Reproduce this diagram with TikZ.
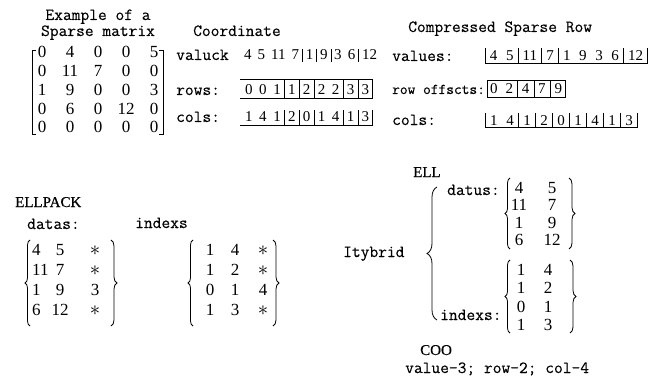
\documentclass[tikz,border=0pt]{standalone}
\usepackage{fontspec}
\setmonofont{Latin Modern Mono}[FakeBold=0.3]
\newfontfamily\timesf{Liberation Serif}
\newfontfamily\titlef{Liberation Serif}[FakeBold=0.6]
\usetikzlibrary{decorations.pathreplacing}
\def\bh{12pt}\def\bd{3pt}
\newcommand\arrbar{\rule[-\bd]{0.6pt}{\dimexpr\bh+\bd\relax}}
\newcommand\B{\hspace{1pt plus 1fil}\arrbar\hspace{1pt plus 1fil}}
\newcommand\Bend{\hspace{1pt plus 1fil}\arrbar}
\newcommand\Bstart{\arrbar\hspace{1pt plus 1fil}}
\newcommand\arr[2]{\hbox to #1{\spaceskip=2pt plus 2fil\relax #2}}
\newcommand\bigast{\smash{\fontsize{20}{20}\selectfont$\ast$}}
\tikzset{
  lbl/.style={font=\ttfamily\fontsize{17}{17}\selectfont, inner sep=0, anchor=base west},
  ttl/.style={font=\titlef\fontsize{15}{15}\selectfont, inner sep=0, anchor=base west},
  num/.style={font=\timesf\fontsize{17}{17}\selectfont, inner sep=0, anchor=base},
  numb/.style={font=\timesf\fontsize{17}{17}\selectfont, inner sep=0, anchor=base},
  arrn/.style={font=\timesf\fontsize{15}{15}\selectfont, inner sep=0, outer sep=0, anchor=base west},
  aline/.style={line width=0.7pt},
  brc/.style={decorate, decoration={brace, amplitude=#1}, line width=0.8pt},
}
\begin{document}
\begin{tikzpicture}[x=1pt, y=-1pt]
\useasboundingbox[fill=white] (0,0) rectangle (653,377);

% ---- sparse matrix
\node[lbl, anchor=base] (ex1) at (98,20) {Example of a};
\node[lbl, anchor=base] (ex2) at (98,36) {Sparse matrix};
\foreach \vals [count=\r] in {{0,4,0,0,5},{0,11,7,0,0},{1,9,0,0,3},{0,6,0,12,0},{0,0,0,0,0}} {
  \foreach \v [count=\c] in \vals {
    \node[num] (sm-\r-\c) at ({14+28*\c},{39.25+18.75*\r}) {\v};
  }
}
\draw[line width=0.8pt] (36,50) -- (32,50) -- (32,134) -- (36,134);
\draw[line width=0.8pt] (159,50) -- (163,50) -- (163,134) -- (159,134);

% ---- coordinate
\node[lbl] (coord) at (193,36) {Coordinate};
\node[lbl] (cval) at (176,60) {valuck};
\node[lbl] (crowl) at (176,95) {rows:};
\node[lbl] (ccoll) at (176,122) {cols:};
\node[arrn] (cvala) at (244,60) {\def\bh{11pt}\def\bd{2pt}\arr{133pt}{4 5 11 7\B1\B9\B3 6\B12}};
\node[arrn] (crows) at (240,95) {\def\bh{16pt}\def\bd{3pt}\arr{133pt}{\hspace{5pt}0 0 1\B1\B2\B2 2\B3\B3\Bend}};
\draw[aline] (crows.north west) -- (crows.north east) (crows.south west) -- (crows.south east);
\node[arrn] (ccols) at (240,122) {\def\bh{12pt}\def\bd{3pt}\arr{133pt}{\hspace{5pt}1 4 1\B2\B0\B1 4\B1\B3\Bend}};
\draw[aline] (ccols.south west) -- (ccols.south east);

% ---- CSR
\node[lbl] (csr) at (408,32) {Compressed Sparse Row};
\node[lbl] (sval) at (392,61) {values:};
\node[lbl, font=\ttfamily\fontsize{15}{15}\selectfont] (soff) at (392,94) {row offscts:};
\node[lbl] (scoll) at (392,125) {cols:};
\node[arrn] (svala) at (485,61) {\def\bh{13pt}\def\bd{2pt}\arr{163pt}{\Bstart4 5\B11\B7\B1 9 3 6\B12\Bend}};
\draw[aline] (svala.south west) -- (svala.south east);
\node[arrn, draw, line width=0.7pt] (soffa) at (487,94) {\def\bh{14pt}\def\bd{3pt}\arr{78pt}{\rule[-3pt]{0pt}{17pt}\hspace{3pt}0 2\B4\B7\B9\hspace{3pt}}};
\node[arrn] (scols) at (485,125) {\def\bh{12pt}\def\bd{2pt}\arr{153pt}{\Bstart1 4\B1\B2\B0\B1\B4\B1\B3\Bend}};
\draw[aline] (scols.south west) -- (scols.south east);

% ---- ELLPACK
\node[ttl] (ell) at (15,207) {ELLPACK};
\node[lbl] (datas) at (27,229) {datas:};
\node[lbl] (idx) at (135,228) {indexs};
\foreach \a/\b/\cc [count=\r] in {4/5/\bigast, 11/7/\bigast, 1/9/3, 6/12/\bigast} {
  \node[numb, anchor=base west] (ed-\r-1) at (32,{235+20*\r}) {\a};
  \node[numb] (ed-\r-2) at (60,{235+20*\r}) {\b};
  \node[numb] (ed-\r-3) at (95,{235+20*\r}) {\cc};
}
\draw[brc=5pt] (30,326) -- (30,240);
\draw[brc=6pt] (111,240) -- (111,326);
\foreach \a/\b/\cc [count=\r] in {1/4/\bigast, 1/2/\bigast, 0/1/4, 1/3/\bigast} {
  \node[numb] (ei-\r-1) at (210,{235+20*\r}) {\a};
  \node[numb] (ei-\r-2) at (235,{235+20*\r}) {\b};
  \node[numb] (ei-\r-3) at (263,{235+20*\r}) {\cc};
}
\draw[brc=5pt] (193,326) -- (193,240);
\draw[brc=6pt] (273,240) -- (273,326);

% ---- Hybrid
\node[ttl] (ellh) at (413,177) {ELL};
\node[lbl] (hyb) at (343,257) {Itybrid};
\draw[brc=10pt] (437,320) -- (437,187);
\node[lbl] (datus) at (447,195) {datus:};
\node[lbl] (hidx) at (440,320) {indexs:};
\foreach \a/\b [count=\r] in {4/5, 11/7, 1/9, 6/12} {
  \node[numb] (hd-\r-1) at (519,{175.5+17.6*\r}) {\a};
  \node[numb] (hd-\r-2) at (552,{175.5+17.6*\r}) {\b};
}
\draw[brc=5pt] (510,249) -- (510,178);
\draw[brc=6pt] (569,178) -- (569,249);
\foreach \a/\b [count=\r] in {1/4, 1/2, 0/1, 1/3} {
  \node[numb] (hi-\r-1) at (521,{256.5+18.5*\r}) {\a};
  \node[numb] (hi-\r-2) at (548,{256.5+18.5*\r}) {\b};
}
\draw[brc=5pt] (510,333) -- (510,260);
\draw[brc=6pt] (570,260) -- (570,333);

% ---- COO
\node[ttl] (coo) at (420,355) {COO};
\node[lbl] (cooval) at (405,373) {value-3; row-2; col-4};
\end{tikzpicture}
\end{document}
